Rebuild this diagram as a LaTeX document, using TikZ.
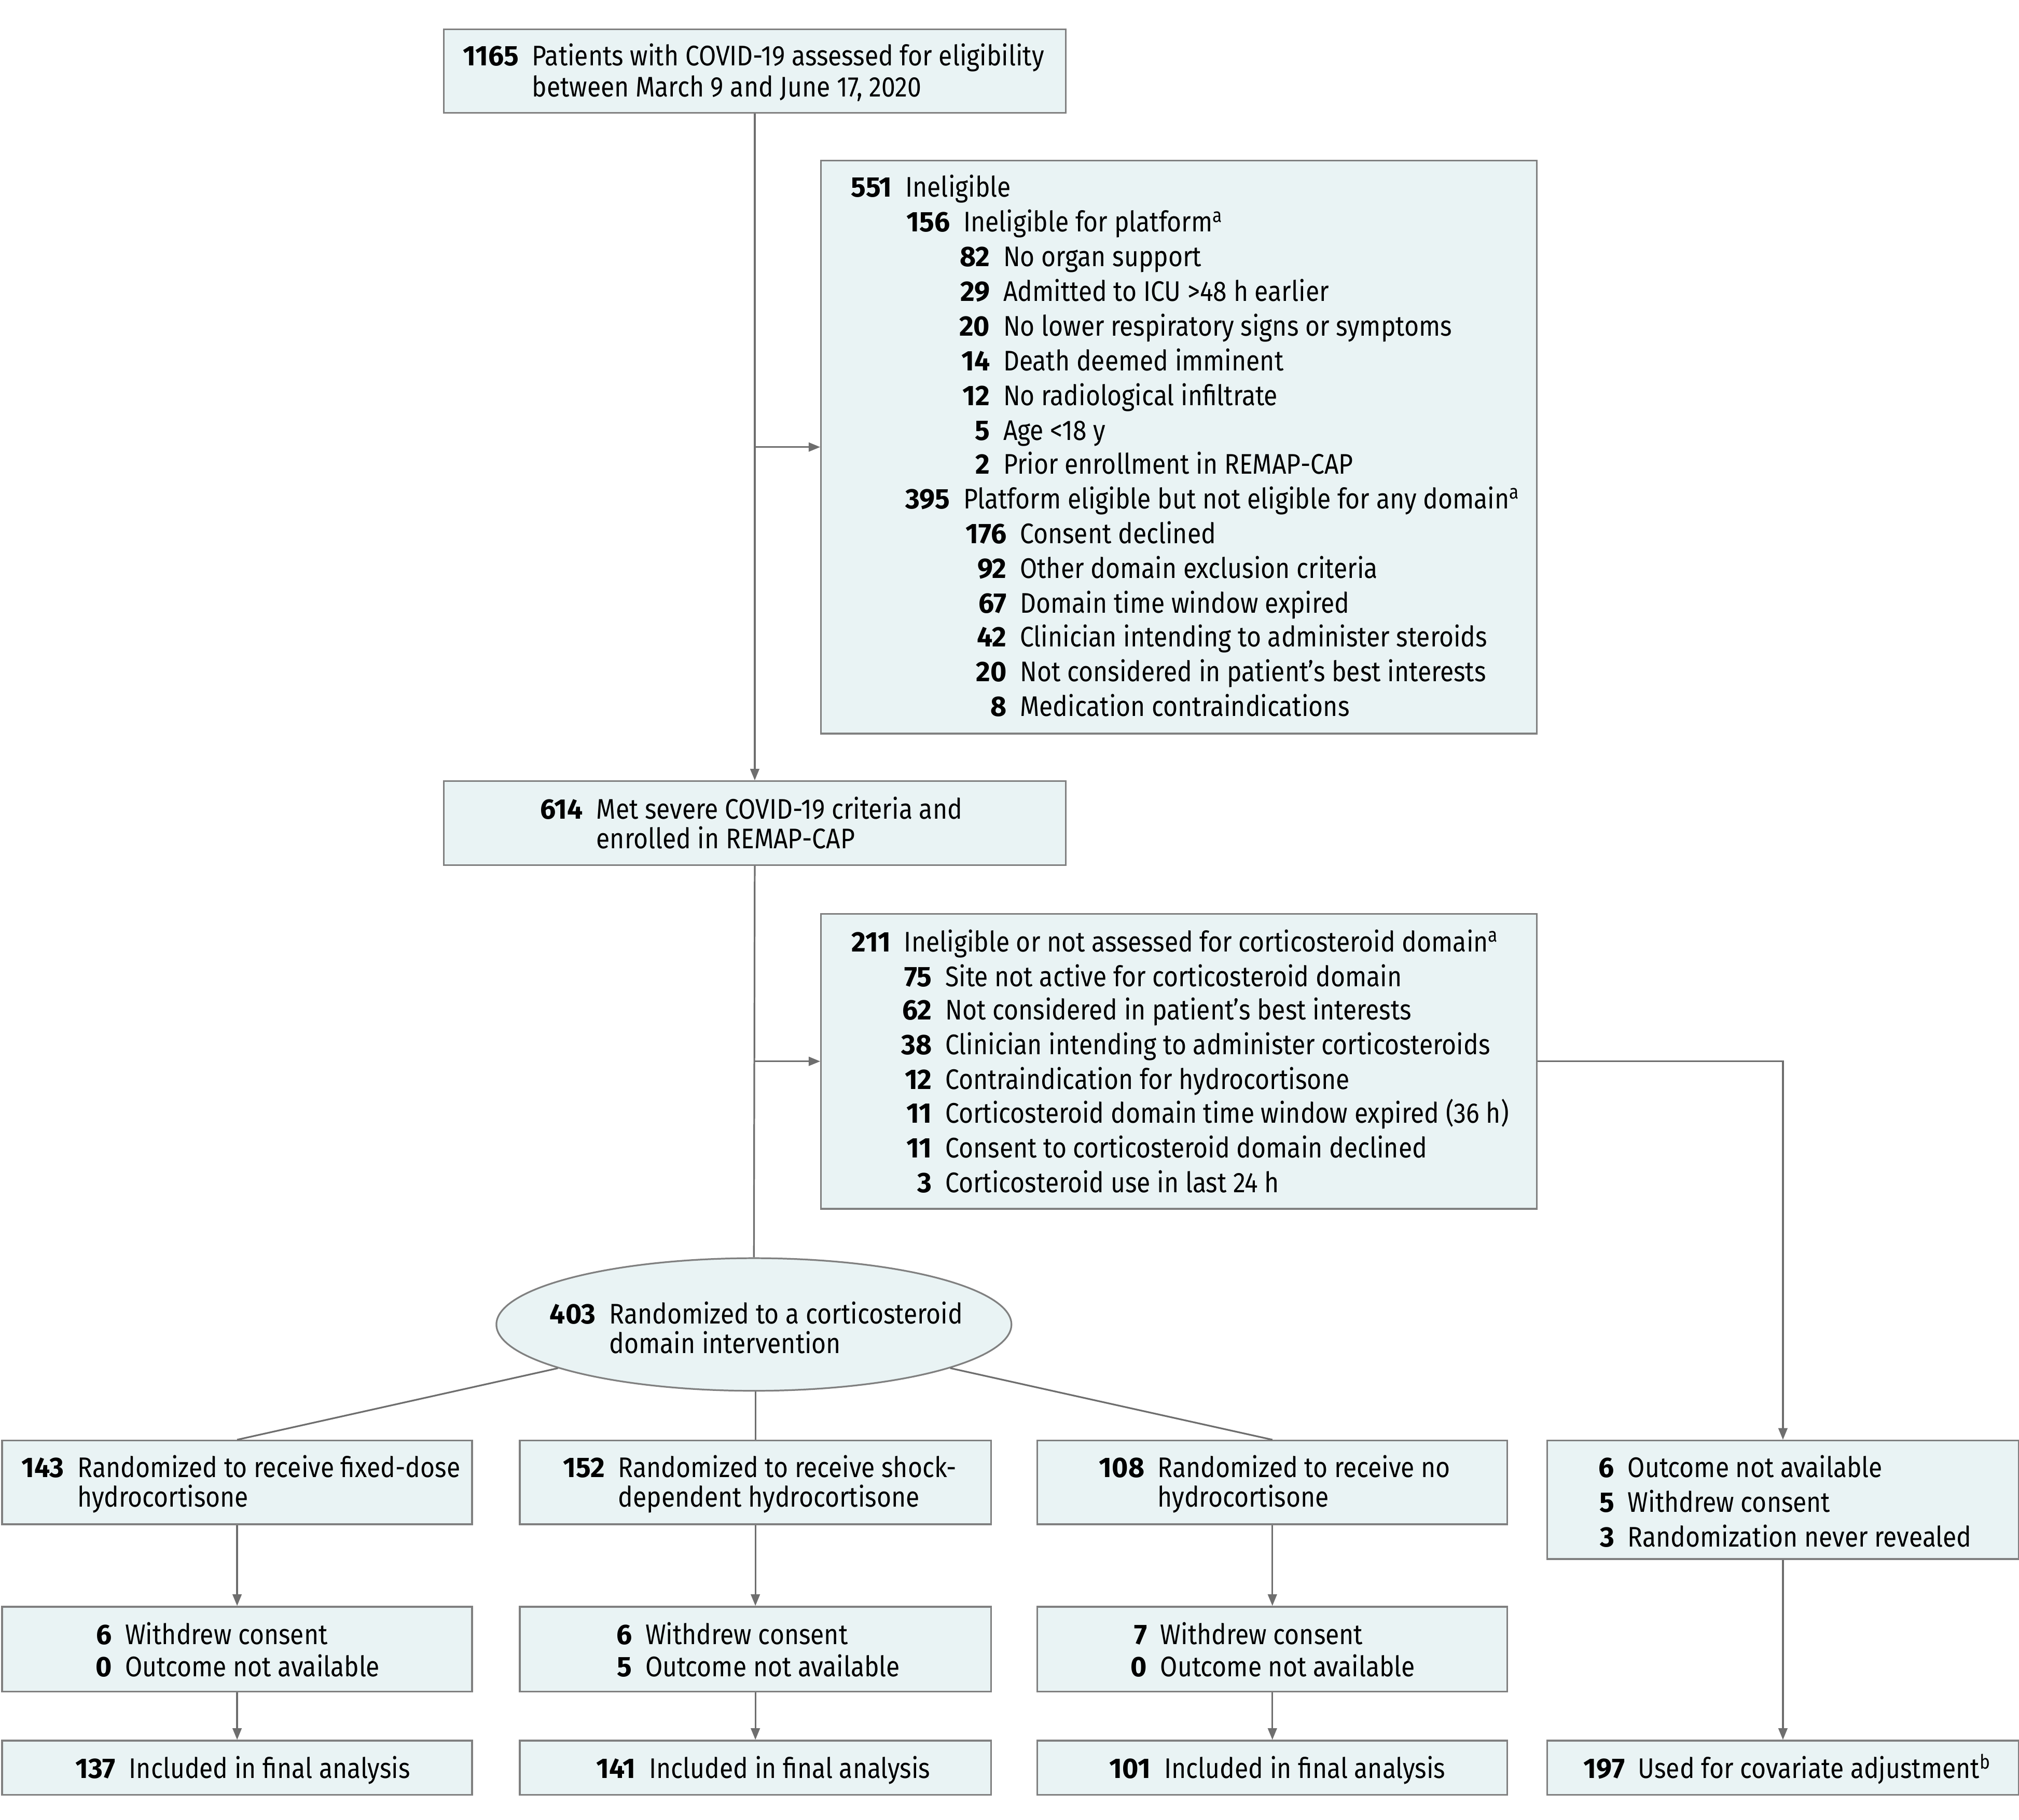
\documentclass[tikz,border=0pt]{standalone}
\usepackage{fontspec}
\setmainfont{Fira Sans}[FakeStretch=0.88]
\newfontfamily\numfont{Fira Sans}[FakeStretch=0.98]
\usetikzlibrary{arrows.meta,shapes.geometric}
\definecolor{boxfill}{HTML}{E9F3F4}
\definecolor{bordergray}{HTML}{808080}
\definecolor{linegray}{HTML}{6E6E6E}
\newcounter{lnc}
\newcommand\supr[1]{\textsuperscript{#1}}
\newcommand\rw[4]{\stepcounter{lnc}%
  \node[numsty] (n\thelnc) at (#1,#2+8) {#3};
  \node[txtsty] (t\thelnc) at (#1+10,#2+8) {#4};}
\newcommand\tl[3]{\stepcounter{lnc}%
  \node[txtsty] (t\thelnc) at (#1,#2+8) {#3};}
\begin{document}
\begin{tikzpicture}[x=1pt,y=-1pt,
  box/.style={draw=bordergray, fill=boxfill, line width=1.3pt, rectangle, inner sep=0pt, anchor=north west},
  oval/.style={draw=bordergray, fill=boxfill, line width=1.3pt, ellipse, inner sep=0pt},
  conn/.style={draw=linegray, line width=1.3pt},
  arr/.style={conn, -{Triangle[length=9pt,width=7pt]}},
  numsty/.style={font=\fontsize{22}{26}\numfont\bfseries, anchor=base east, inner sep=0pt},
  txtsty/.style={font=\fontsize{22}{26}\selectfont, anchor=base west, inner sep=0pt}]
\useasboundingbox (0,0) rectangle (1568,1413);
\fill[white] (0,0) rectangle (1568,1413);
% boxes
\node[box, minimum width=483pt, minimum height=65pt] (top) at (344,22) {};
\node[box, minimum width=556pt, minimum height=445pt] (inel) at (637,124) {};
\node[box, minimum width=483pt, minimum height=65pt] (enr) at (344,606) {};
\node[box, minimum width=556pt, minimum height=229pt] (cort) at (637,709) {};
\node[oval, minimum width=400pt, minimum height=103pt] (rand) at (585.5,1028.5) {};
\node[box, minimum width=365pt, minimum height=65pt] (A) at (1,1118) {};
\node[box, minimum width=366pt, minimum height=65pt] (B) at (403,1118) {};
\node[box, minimum width=365pt, minimum height=65pt] (C) at (805,1118) {};
\node[box, minimum width=366pt, minimum height=92pt] (D) at (1201,1118) {};
\node[box, minimum width=365pt, minimum height=66pt] (A2) at (1,1247) {};
\node[box, minimum width=366pt, minimum height=66pt] (B2) at (403,1247) {};
\node[box, minimum width=365pt, minimum height=66pt] (C2) at (805,1247) {};
\node[box, minimum width=365pt, minimum height=42pt] (A3) at (1,1351) {};
\node[box, minimum width=366pt, minimum height=42pt] (B3) at (403,1351) {};
\node[box, minimum width=365pt, minimum height=42pt] (C3) at (805,1351) {};
\node[box, minimum width=366pt, minimum height=42pt] (D3) at (1201,1351) {};
% connectors
\draw[arr] (top.south) -- (enr.north);
\draw[arr] (top.south |- inel.west) -- (inel.west);
\draw[conn] (enr.south) -- (rand.north);
\draw[arr] (enr.south |- cort.west) -- (cort.west);
\draw[arr] (cort.east) -| (D.north);
\draw[conn] (rand) -- (A.north);
\draw[conn] (rand) -- (C.north);
\draw[conn] (B.north |- rand.south) -- (B.north);
\draw[arr] (A.south) -- (A2.north);
\draw[arr] (B.south) -- (B2.north);
\draw[arr] (C.south) -- (C2.north);
\draw[arr] (A2.south) -- (A3.north);
\draw[arr] (B2.south) -- (B3.north);
\draw[arr] (C2.south) -- (C3.north);
\draw[arr] (D.south) -- (D3.north);
% texts
\rw{403}{43}{1165}{Patients with COVID-19 assessed for eligibility}
\tl{413}{67}{between March 9 and June 17, 2020}
\rw{693}{145}{551}{Ineligible}
\rw{738}{172}{156}{Ineligible for platform\supr{a}}
\rw{769}{199}{82}{No organ support}
\rw{769}{226}{29}{Admitted to ICU >48 h earlier}
\rw{769}{253}{20}{No lower respiratory signs or symptoms}
\rw{769}{280}{14}{Death deemed imminent}
\rw{769}{307}{12}{No radiological infiltrate}
\rw{769}{334}{5}{Age <18 y}
\rw{769}{360}{2}{Prior enrollment in REMAP-CAP}
\rw{738}{387}{395}{Platform eligible but not eligible for any domain\supr{a}}
\rw{782}{414}{176}{Consent declined}
\rw{782}{441}{92}{Other domain exclusion criteria}
\rw{782}{468}{67}{Domain time window expired}
\rw{782}{494}{42}{Clinician intending to administer steroids}
\rw{782}{521}{20}{Not considered in patient’s best interests}
\rw{782}{548}{8}{Medication contraindications}
\rw{453}{628}{614}{Met severe COVID-19 criteria and}
\tl{463}{651}{enrolled in REMAP-CAP}
\rw{692}{731}{211}{Ineligible or not assessed for corticosteroid domain\supr{a}}
\rw{724}{758}{75}{Site not active for corticosteroid domain}
\rw{724}{784}{62}{Not considered in patient’s best interests}
\rw{724}{811}{38}{Clinician intending to administer corticosteroids}
\rw{724}{838}{12}{Contraindication for hydrocortisone}
\rw{724}{864}{11}{Corticosteroid domain time window expired (36 h)}
\rw{724}{891}{11}{Consent to corticosteroid domain declined}
\rw{724}{918}{3}{Corticosteroid use in last 24 h}
\rw{463}{1020}{403}{Randomized to a corticosteroid}
\tl{473}{1043}{domain intervention}
\rw{50}{1139}{143}{Randomized to receive fixed-dose}
\tl{60}{1162}{hydrocortisone}
\rw{470}{1139}{152}{Randomized to receive shock-}
\tl{480}{1162}{dependent hydrocortisone}
\rw{889}{1139}{108}{Randomized to receive no}
\tl{899}{1162}{hydrocortisone}
\rw{1254}{1139}{6}{Outcome not available}
\rw{1254}{1166}{5}{Withdrew consent}
\rw{1254}{1193}{3}{Randomization never revealed}
\rw{87}{1269}{6}{Withdrew consent}
\rw{87}{1294}{0}{Outcome not available}
\rw{491}{1269}{6}{Withdrew consent}
\rw{491}{1294}{5}{Outcome not available}
\rw{891}{1269}{7}{Withdrew consent}
\rw{891}{1294}{0}{Outcome not available}
\rw{90}{1373}{137}{Included in final analysis}
\rw{494}{1373}{141}{Included in final analysis}
\rw{894}{1373}{101}{Included in final analysis}
\rw{1262}{1373}{197}{Used for covariate adjustment\supr{b}}
\end{tikzpicture}
\end{document}
